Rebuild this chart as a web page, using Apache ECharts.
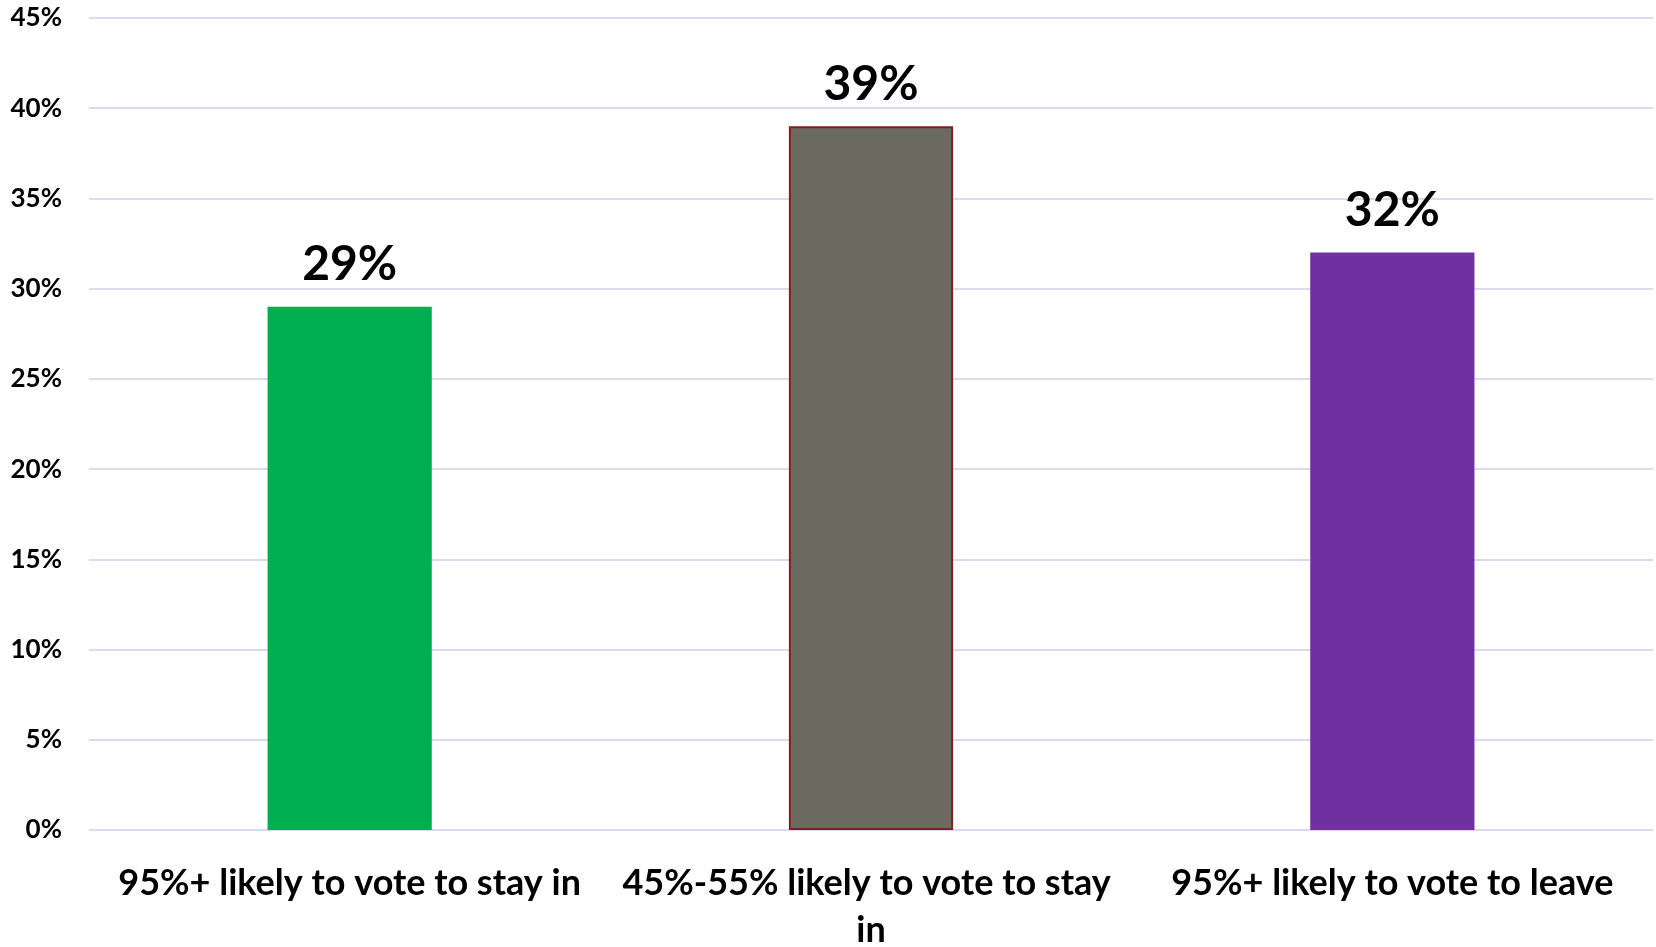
<!DOCTYPE html>
<html>
<head>
<meta charset="utf-8">
<script src="https://cdn.jsdelivr.net/npm/echarts@6/dist/echarts.min.js"></script>
<style>
  html, body { margin: 0; padding: 0; background: #fff; }
  #chart { width: 1656px; height: 947px; }
</style>
</head>
<body>
<div id="chart"></div>
<script>
var categories = ['95%+ likely to vote to stay in', '45%-55% likely to vote to stay in', '95%+ likely to vote to leave'];
var values = [29, 39, 32];
var barColors = ['#00B050', '#6B6B62', '#7030A0'];
var barBorders = ['#00B050', '#7F1F1F', '#7030A0'];
var yTicks = { min: 0, max: 45, interval: 5 };

var font = 'Lato, "Open Sans", sans-serif';

var option = {
    animation: false,
    grid: {
        left: 89,
        right: 3,
        top: 18,
        bottom: 117,
        outerBoundsMode: 'none'
    },
    xAxis: {
        type: 'category',
        data: categories,
        axisLine: { show: false },
        axisTick: { show: false },
        axisLabel: {
            interval: 0,
            margin: 30,
            width: 510,
            overflow: 'break',
            lineHeight: 47,
            color: '#000',
            fontFamily: font,
            fontWeight: 'bold',
            fontSize: 36
        }
    },
    yAxis: {
        type: 'value',
        min: yTicks.min,
        max: yTicks.max,
        interval: yTicks.interval,
        axisLine: { show: false },
        axisTick: { show: false },
        splitLine: { lineStyle: { color: '#DCDAF0', width: 2 } },
        axisLabel: {
            margin: 27,
            color: '#000',
            fontFamily: font,
            fontWeight: 'bold',
            fontSize: 26,
            formatter: '{value}%'
        }
    },
    series: [{
        type: 'bar',
        barWidth: '31.5%',
        data: values.map(function (v, i) {
            return {
                value: v,
                itemStyle: { color: barColors[i], borderColor: barBorders[i], borderWidth: i === 1 ? 2 : 0 }
            };
        }),
        label: {
            show: true,
            position: 'top',
            distance: 18,
            formatter: '{c}%',
            color: '#000',
            fontFamily: font,
            fontWeight: 'bold',
            fontSize: 48
        }
    }]
};

var myChart = echarts.init(document.getElementById('chart'));
myChart.setOption(option);
</script>
</body>
</html>
